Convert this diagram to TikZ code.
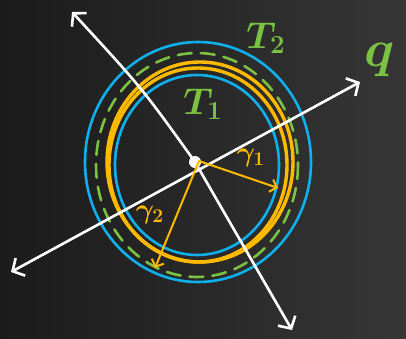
\documentclass[tikz,border=0pt]{standalone}
\usetikzlibrary{arrows.meta}
\definecolor{bgL}{HTML}{1B1B1B}
\definecolor{bgR}{HTML}{363636}
\definecolor{skyb}{HTML}{10B0EC}
\definecolor{leaf}{HTML}{7CC242}
\definecolor{gold}{HTML}{FFBA00}
\tikzset{
  axis/.style={draw=white, line width=2.6pt, line cap=round, {Straight Barb[length=9pt,width=20pt,line width=2.6pt]}-{Straight Barb[length=9pt,width=20pt,line width=2.6pt]}},
  radarrow/.style={draw=gold, line width=2pt, line cap=round, -{Straight Barb[length=6pt,width=13pt,line width=2pt]}},
  bluering/.style={draw=skyb, line width=2.6pt},
  goldring/.style={draw=gold, line width=3.4pt},
  greendash/.style={draw=leaf, line width=2.6pt, line cap=round, dash pattern=on 14pt off 9pt},
  greenlbl/.style={text=leaf, font=\fontsize{20}{20}\selectfont\boldmath, scale=1.8},
  goldlbl/.style={text=gold, font=\fontsize{20}{20}\selectfont\boldmath, scale=1.35}
}
\begin{document}
\begin{tikzpicture}[x=1pt,y=-1pt]
\shade[left color=bgL, right color=bgR] (0,0) rectangle (406,338);
\useasboundingbox (0,0) rectangle (406,338);
% rings
\draw[bluering] (198,162) ellipse [x radius=113, y radius=120];
\draw[bluering] (197,165) ellipse [x radius=82, y radius=90];
\draw[greendash] (197,165) ellipse [x radius=101, y radius=112];
\draw[goldring] (200,162) ellipse [x radius=93, y radius=100];
\draw[goldring] (198,165) ellipse [x radius=89, y radius=97];
% axes
\coordinate (ul) at (72,12);
\coordinate (lr) at (292,330);
\coordinate (ll) at (11,272);
\coordinate (ur) at (360,82);
\node[circle, fill=white, inner sep=0pt, minimum size=12pt] (c) at (195,162) {};
\draw[axis] (ul) .. controls (142,88) .. (c.center) -- (lr);
\draw[axis] (ll) -- (ur);
% radii
\coordinate (r1) at (278,188);
\coordinate (r2) at (155,268);
\coordinate (o) at (199,161);
\draw[radarrow] (o) -- (r1);
\draw[radarrow] (o) -- (r2);
% labels
\node[greenlbl] (t2) at (266,38) {$T_2$};
\node[greenlbl] (t1) at (203,104) {$T_1$};
\node[greenlbl, scale=1.4] (q) at (380,60) {$q$};
\node[goldlbl] (g1) at (251,158) {$\gamma_1$};
\node[goldlbl] (g2) at (150,215) {$\gamma_2$};
\end{tikzpicture}
\end{document}
